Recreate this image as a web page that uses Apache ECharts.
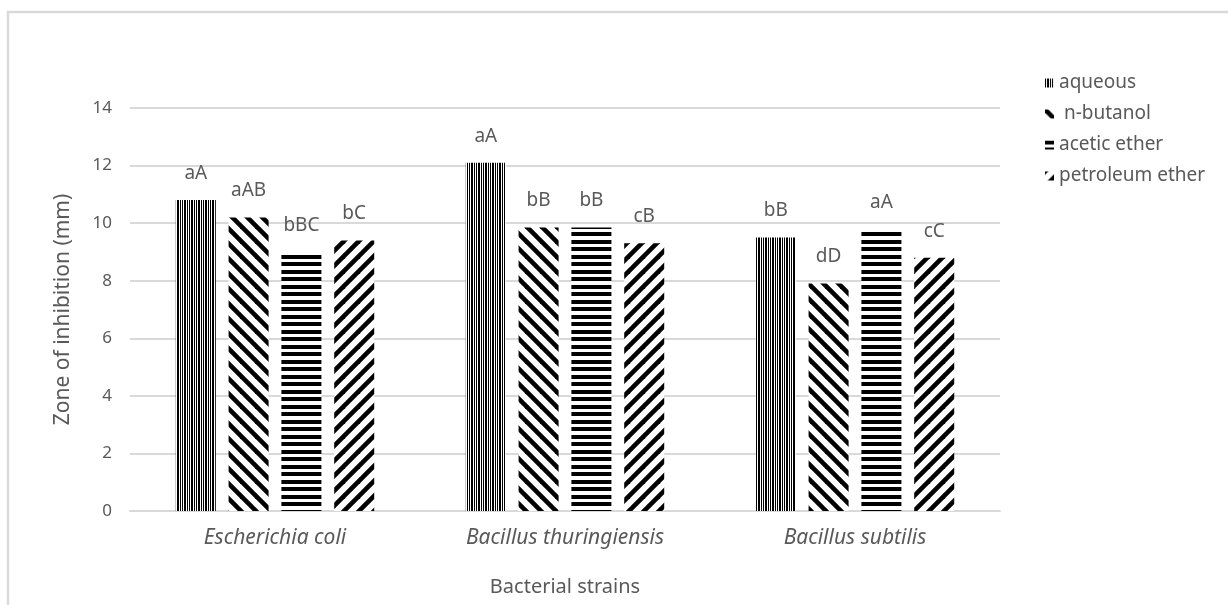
<!DOCTYPE html>
<html>
<head>
<meta charset="utf-8">
<script src="https://cdn.jsdelivr.net/npm/echarts@6/dist/echarts.min.js"></script>
<style>
html,body{margin:0;padding:0;background:#fff;}
#chart{width:1228px;height:605px;}
</style>
</head>
<body>
<div id="chart"></div>
<script>
// ---- data ----
var categories = ['Escherichia coli', 'Bacillus thuringiensis', 'Bacillus subtilis'];
var seriesNames = ['aqueous', ' n-butanol', 'acetic ether', 'petroleum ether'];
var aqueous = [10.8, 12.1, 9.5];
var nButanol = [10.2, 9.85, 7.9];
var aceticEther = [9.0, 9.85, 9.8];
var petroleumEther = [9.4, 9.3, 8.8];
var aqueousLetters = ['aA', 'aA', 'bB'];
var nButanolLetters = ['aAB', 'bB', 'dD'];
var aceticEtherLetters = ['bBC', 'bB', 'aA'];
var petroleumEtherLetters = ['bC', 'cB', 'cC'];
var yTicks = {min: 0, max: 14, interval: 2};

// ---- patterns ----
function makeCanvas(w, h) {
  var c = document.createElement('canvas');
  c.width = w; c.height = h;
  var ctx = c.getContext('2d');
  ctx.fillStyle = '#fff';
  ctx.fillRect(0, 0, w, h);
  return {c: c, ctx: ctx};
}
function verticalPattern() {
  var cols = [1, 0, 1, 1, 0, 1, 0];
  var t = makeCanvas(cols.length, 8);
  t.ctx.fillStyle = '#000';
  cols.forEach(function (v, i) { if (v) t.ctx.fillRect(i, 0, 1, 8); });
  return t.c;
}
function horizontalPattern() {
  var t = makeCanvas(8, 15);
  t.ctx.fillStyle = '#000';
  t.ctx.fillRect(0, 0, 8, 4);
  t.ctx.fillRect(0, 7, 8, 4);
  return t.c;
}
function diagonalPattern(down) {
  var s = 15;
  var t = makeCanvas(s, s);
  var ctx = t.ctx;
  ctx.strokeStyle = '#000';
  ctx.lineWidth = 4.6;
  for (var k = -1; k <= 1; k++) {
    ctx.beginPath();
    if (down) {
      ctx.moveTo(k * s - 2, -2);
      ctx.lineTo(k * s + s + 2, s + 2);
    } else {
      ctx.moveTo(k * s - 2, s + 2);
      ctx.lineTo(k * s + s + 2, -2);
    }
    ctx.stroke();
  }
  return t.c;
}
function pat(canvas) { return {image: canvas, repeat: 'repeat'}; }

var patterns = [
  pat(verticalPattern()),
  pat(diagonalPattern(true)),
  pat(horizontalPattern()),
  pat(diagonalPattern(false))
];
var values = [aqueous, nButanol, aceticEther, petroleumEther];
var letters = [aqueousLetters, nButanolLetters, aceticEtherLetters, petroleumEtherLetters];

var textColor = '#595959';
var font = '"Noto Sans", sans-serif';

var series = seriesNames.map(function (name, i) {
  return {
    name: name,
    type: 'bar',
    data: values[i],
    barWidth: 40,
    barGap: '32%',
    itemStyle: {color: patterns[i]},
    label: {
      show: true,
      position: 'top',
      distance: 17,
      color: textColor,
      fontSize: 19,
      fontFamily: font,
      formatter: function (p) { return letters[i][p.dataIndex]; }
    }
  };
});

var chart = echarts.init(document.getElementById('chart'), null, {renderer: 'canvas'});
chart.setOption({
  animation: false,
  backgroundColor: '#fff',
  textStyle: {fontFamily: font},
  graphic: [{
    type: 'rect',
    shape: {x: 8, y: 12, width: 1260, height: 640},
    style: {fill: 'none', stroke: '#d9d9d9', lineWidth: 2.5},
    silent: true,
    z: -10
  }],
  grid: {left: 130, right: 228, top: 108, bottom: 94, containLabel: false},
  legend: {
    orient: 'vertical',
    left: 1040,
    top: 68,
    icon: 'rect',
    itemWidth: 9,
    itemHeight: 9,
    itemGap: 11,
    textStyle: {color: textColor, fontSize: 19, fontFamily: font, lineHeight: 20},
    data: seriesNames
  },
  xAxis: {
    type: 'category',
    data: categories,
    name: 'Bacterial strains',
    nameLocation: 'middle',
    nameGap: 66,
    nameTextStyle: {color: textColor, fontSize: 20, fontFamily: font},
    axisLine: {lineStyle: {color: '#d9d9d9', width: 2}},
    axisTick: {show: false},
    axisLabel: {color: textColor, fontSize: 21, fontStyle: 'italic', fontFamily: font, margin: 17}
  },
  yAxis: {
    type: 'value',
    min: yTicks.min,
    max: yTicks.max,
    interval: yTicks.interval,
    name: 'Zone of inhibition (mm)',
    nameLocation: 'middle',
    nameGap: 56,
    nameTextStyle: {color: textColor, fontSize: 21, fontFamily: font},
    axisLine: {show: false},
    axisTick: {show: false},
    axisLabel: {color: textColor, fontSize: 17, fontFamily: font, margin: 18},
    splitLine: {lineStyle: {color: '#d9d9d9', width: 2}}
  },
  series: series
});
</script>
</body>
</html>
